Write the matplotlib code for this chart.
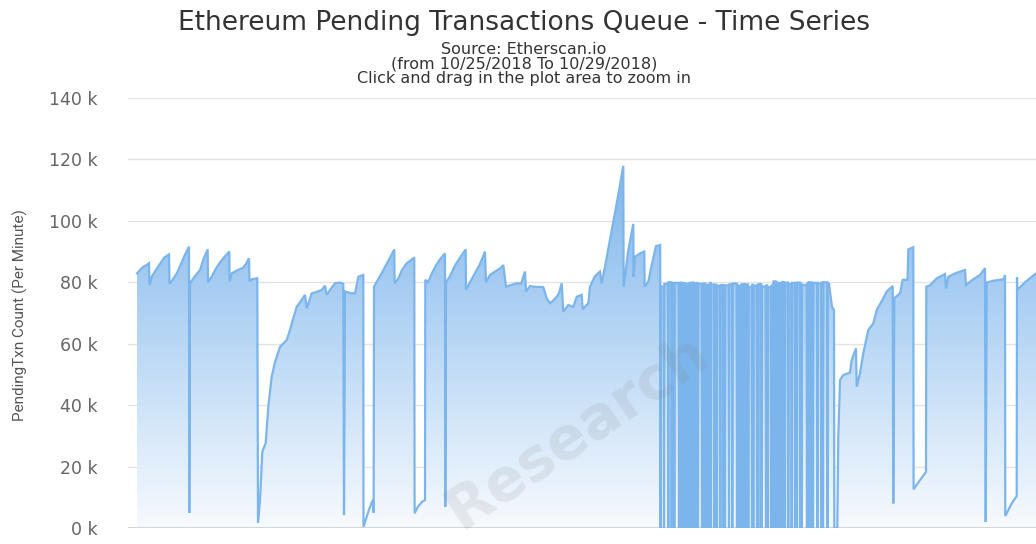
import numpy as np
import matplotlib
matplotlib.use("Agg")
import matplotlib.pyplot as plt
from matplotlib.colors import LinearSegmentedColormap
from matplotlib.patches import Polygon

# ---------------- data (time in hours since first sample, values in thousands) -------------
base_t = [0.0, 0.3, 0.6, 0.9, 1.2, 1.25, 1.5, 1.9, 2.3, 2.7, 3.2, 3.25, 3.6, 4.0, 4.4, 4.8,
          5.2, 5.23, 5.3, 5.8, 6.3, 6.7, 7.07, 7.1, 7.5, 7.9, 8.3, 8.8, 9.23, 9.26, 9.5,
          10.1, 10.6, 10.9, 11.2, 11.25, 11.5, 12.03, 12.1, 12.3, 12.53, 12.87, 13.13,
          13.47, 13.8, 14.3, 14.97, 15.3, 15.6, 15.97, 16.3, 16.8, 16.97, 17.47, 17.9,
          18.47, 18.8, 18.97, 19.3, 19.8, 20.3, 20.63, 20.7, 20.8, 21.3, 21.8, 22.13,
          22.63, 22.65, 22.9, 23.2, 23.5, 23.63, 23.66, 23.7, 24.3, 24.8, 25.3, 25.73,
          25.76, 26.1, 26.5, 26.97, 27.3, 27.73, 27.76, 28.1, 28.5, 28.8, 28.83, 29.1,
          29.5, 29.9, 30.3, 30.8, 30.83, 30.9, 31.3, 31.8, 32.3, 32.87, 32.9, 33.3, 33.8,
          34.3, 34.8, 34.9, 35.3, 35.8, 36.3, 36.63, 36.9, 37.3, 37.97, 38.4, 38.8, 38.9,
          39.3, 39.8, 40.3, 40.63, 40.97, 41.3, 41.6, 41.97, 42.2, 42.47, 42.63, 43.13,
          43.63, 43.97, 44.47, 44.57, 45.13, 45.3, 45.8, 46.3, 46.47, 46.8, 47.3, 47.63,
          48.1, 48.63, 48.66, 49.13, 49.63, 49.66, 49.8, 50.3, 50.73, 50.76, 51.13, 51.47,
          51.9, 52.3]
base_v = [82.9, 84, 85, 85.5, 86.2, 79.1, 82, 84, 86, 88, 89.1, 79.5, 81, 83, 86, 89,
          91.6, 4.9, 79.7, 82, 84, 88, 90.7, 80, 82, 84.5, 86.5, 88.5, 90, 80.3, 83,
          84, 84.7, 86, 87.8, 80.3, 81, 81.3, 1.7, 9, 24.8, 27.7, 39.5,
          49.3, 54, 59, 61.2, 64.5, 68, 72, 73.5, 75.9, 71.5, 76.4, 76.8,
          77.5, 78.9, 75.9, 77.5, 79.7, 79.9, 79.5, 4.2, 77, 76.5, 76.4, 81.8,
          82.4, 0.4, 3, 6, 8.5, 9.1, 5, 78.6, 82, 85, 88, 90.7,
          79.7, 81, 84, 86.2, 87, 88.1, 4.8, 7, 8.5, 9.1, 80.8, 80,
          83, 85.5, 87.5, 89.4, 6.9, 80, 82, 85.5, 88, 90.7, 77.5, 80, 83,
          86, 90, 80, 82.4, 83.5, 84.5, 85.6, 78.6, 79, 79.7, 79.5, 83.5, 77,
          78.8, 78.5, 78.5, 78.4, 74.8, 73.2, 74, 75.3, 76.5, 79.7, 70.4, 72.6,
          72, 75.3, 75.9, 71.2, 73.2, 78.6, 82, 83.5, 79.7, 85.1, 94, 99.7,
          108, 117.9, 78.6, 90.5, 99, 81.8, 88.3, 89.4, 90, 78.6, 80.2, 85.6,
          91.8, 92.1]

# oscillating section: times where the queue count fell to zero, and level it came back to
drop_t = [52.35, 52.7, 53.13, 53.47, 53.73, 54.2, 54.35, 54.47, 54.73, 54.87,
          55.13, 55.27, 55.4, 55.53, 55.67, 55.8, 55.95, 56.1, 56.5, 56.63,
          56.87, 57.15, 57.3, 57.4, 57.75, 57.9, 58.0, 58.33, 58.65, 58.8,
          59.2, 59.53, 60.0, 60.13, 60.4, 60.53, 60.8, 60.95, 61.13, 61.5,
          61.63, 62.0, 62.13, 62.45, 62.9, 63.05, 63.4, 63.53, 63.63, 63.9,
          64.05, 64.2, 64.35, 64.5, 64.65, 64.8, 65.13, 65.47, 65.8, 65.97,
          66.3, 66.47, 67.0, 67.15, 67.45, 67.6, 68.05, 68.45, 68.6, 69.05]
drop_level = [78.6, 79.5, 80.0, 79.6, 79.8, 79.5, 79.9, 79.6, 79.7, 79.4,
              79.6, 79.8, 79.5, 79.9, 79.6, 79.3, 79.7, 79.5, 79.2, 79.6,
              79.0, 79.4, 79.8, 79.3, 78.9, 79.2, 78.8, 79.1, 78.7, 79.0,
              79.3, 79.6, 79.0, 78.8, 79.2, 79.4, 79.0, 79.3, 78.5, 79.2,
              78.9, 79.1, 79.4, 78.6, 79.0, 78.4, 78.8, 79.2, 80.3, 79.9,
              79.6, 79.8, 79.5, 80.1, 79.7, 79.9, 79.4, 79.8, 79.3, 79.9,
              79.6, 79.1, 79.7, 80.0, 79.5, 79.8, 79.6, 79.9, 80.0, 79.8]

tail_t = [69.2, 69.5, 69.7, 69.73, 70.03, 70.13, 70.3, 70.63, 71.3, 71.47, 71.9, 71.97,
          72.3, 72.63, 73.13, 73.63, 73.97, 74.63, 74.97, 75.57, 75.63, 75.73, 76.3,
          76.57, 77.05, 77.13, 77.63, 77.66, 78.3, 78.9, 78.93, 79.3, 79.97, 80.8,
          80.9, 81.13, 81.97, 82.8, 82.9, 83.63, 84.3, 84.8, 84.87, 84.97, 85.6,
          86.3, 86.7, 86.8, 86.83, 87.47, 87.97, 88.0, 88.03, 88.8, 89.9]
tail_v = [79.5, 72, 71, 0, 0, 29.7, 48.2, 49.8, 50.6, 54.7, 58.5, 46,
          50.4, 56.9, 64.5, 66.6, 71, 74.8, 77, 78.8, 8, 74.8, 76.4,
          80.8, 80.8, 90.7, 91.4, 12.6, 15.6, 18.3, 78.6, 79, 81.3, 82.7,
          78, 81.8, 83.1, 84, 79.1, 81, 82.4, 84.6, 2, 79.9, 80.5,
          80.8, 81, 82.4, 3.9, 8, 10.4, 81.6, 77.5, 80, 82.9]

y_ticks = [0, 20, 40, 60, 80, 100, 120, 140]
y_tick_labels = [f"{v} k" for v in y_ticks]

title = "Ethereum Pending Transactions Queue - Time Series"
subtitle_lines = ["Source: Etherscan.io",
                  "(from 10/25/2018 To 10/29/2018)",
                  "Click and drag in the plot area to zoom in"]
y_label = "PendingTxn Count (Per Minute)"

# ---------------- assemble series ----------------
t = list(base_t)
v = list(base_v)
prev = base_v[-1]
for d, lvl in zip(drop_t, drop_level):
    t += [d - 0.03, d, d + 0.03]
    v += [prev, 0.0, lvl]
    prev = lvl
t += tail_t
v += tail_v
t = np.array(t)
v = np.array(v)

# ---------------- figure ----------------
W, H = 1036, 544
fig = plt.figure(figsize=(W / 100, H / 100), dpi=100)
fig.patch.set_facecolor("white")
ax = fig.add_axes([128 / W, 1 - 528 / H, (W - 128) / W, (528 - 98) / H])

x0, x1 = -0.9, 89.9
ax.set_xlim(x0, x1)
ax.set_ylim(0, 140)

# gradient fill under the line
cmap = LinearSegmentedColormap.from_list("g", ["#f7fafe", "#7cb5ec"])
grad = np.linspace(0, 1, 256).reshape(-1, 1)
im = ax.imshow(grad, extent=[x0, x1, 0, 120], origin="lower", aspect="auto",
               cmap=cmap, zorder=1, interpolation="bilinear")
verts = [(t[0], 0)] + list(zip(t, v)) + [(t[-1], 0)]
clip = Polygon(verts, closed=True, facecolor="none", edgecolor="none",
               transform=ax.transData)
ax.add_patch(clip)
im.set_clip_path(clip)

ax.plot(t, v, color="#7cb5ec", lw=1.6, zorder=3, solid_joinstyle="miter")

# axes styling
for s in ax.spines.values():
    s.set_visible(False)
ax.set_yticks(y_ticks)
ax.set_yticklabels(y_tick_labels, fontsize=12.5, color="#666666")
ax.tick_params(axis="y", length=0, pad=22)
ax.set_xticks([])
ax.yaxis.grid(True, color="#e3e3e3", lw=1.0, zorder=0)
ax.set_axisbelow(True)
ax.axhline(0, color="#d4d4d4", lw=1.5, zorder=2)

# watermark
ax.text(0.495, 0.225, "Research", transform=ax.transAxes, rotation=34,
        fontsize=42, fontweight="bold", color="#7a7a7a", alpha=0.13,
        ha="center", va="center", zorder=4)

# titles
fig.text(524 / W, 1 - 23 / H, title, ha="center", va="center",
         fontsize=19, color="#333333")
fig.text(524 / W, 1 - 64 / H, "\n".join(subtitle_lines), ha="center", va="center",
         fontsize=11.5, color="#333333", linespacing=0.98, multialignment="center")

fig.text(20 / W, 1 - 315 / H, y_label, rotation=90, ha="center", va="center",
         fontsize=11, color="#555555", family=["Roboto", "DejaVu Sans"])

fig.savefig("out.png", dpi=100, facecolor="white")
